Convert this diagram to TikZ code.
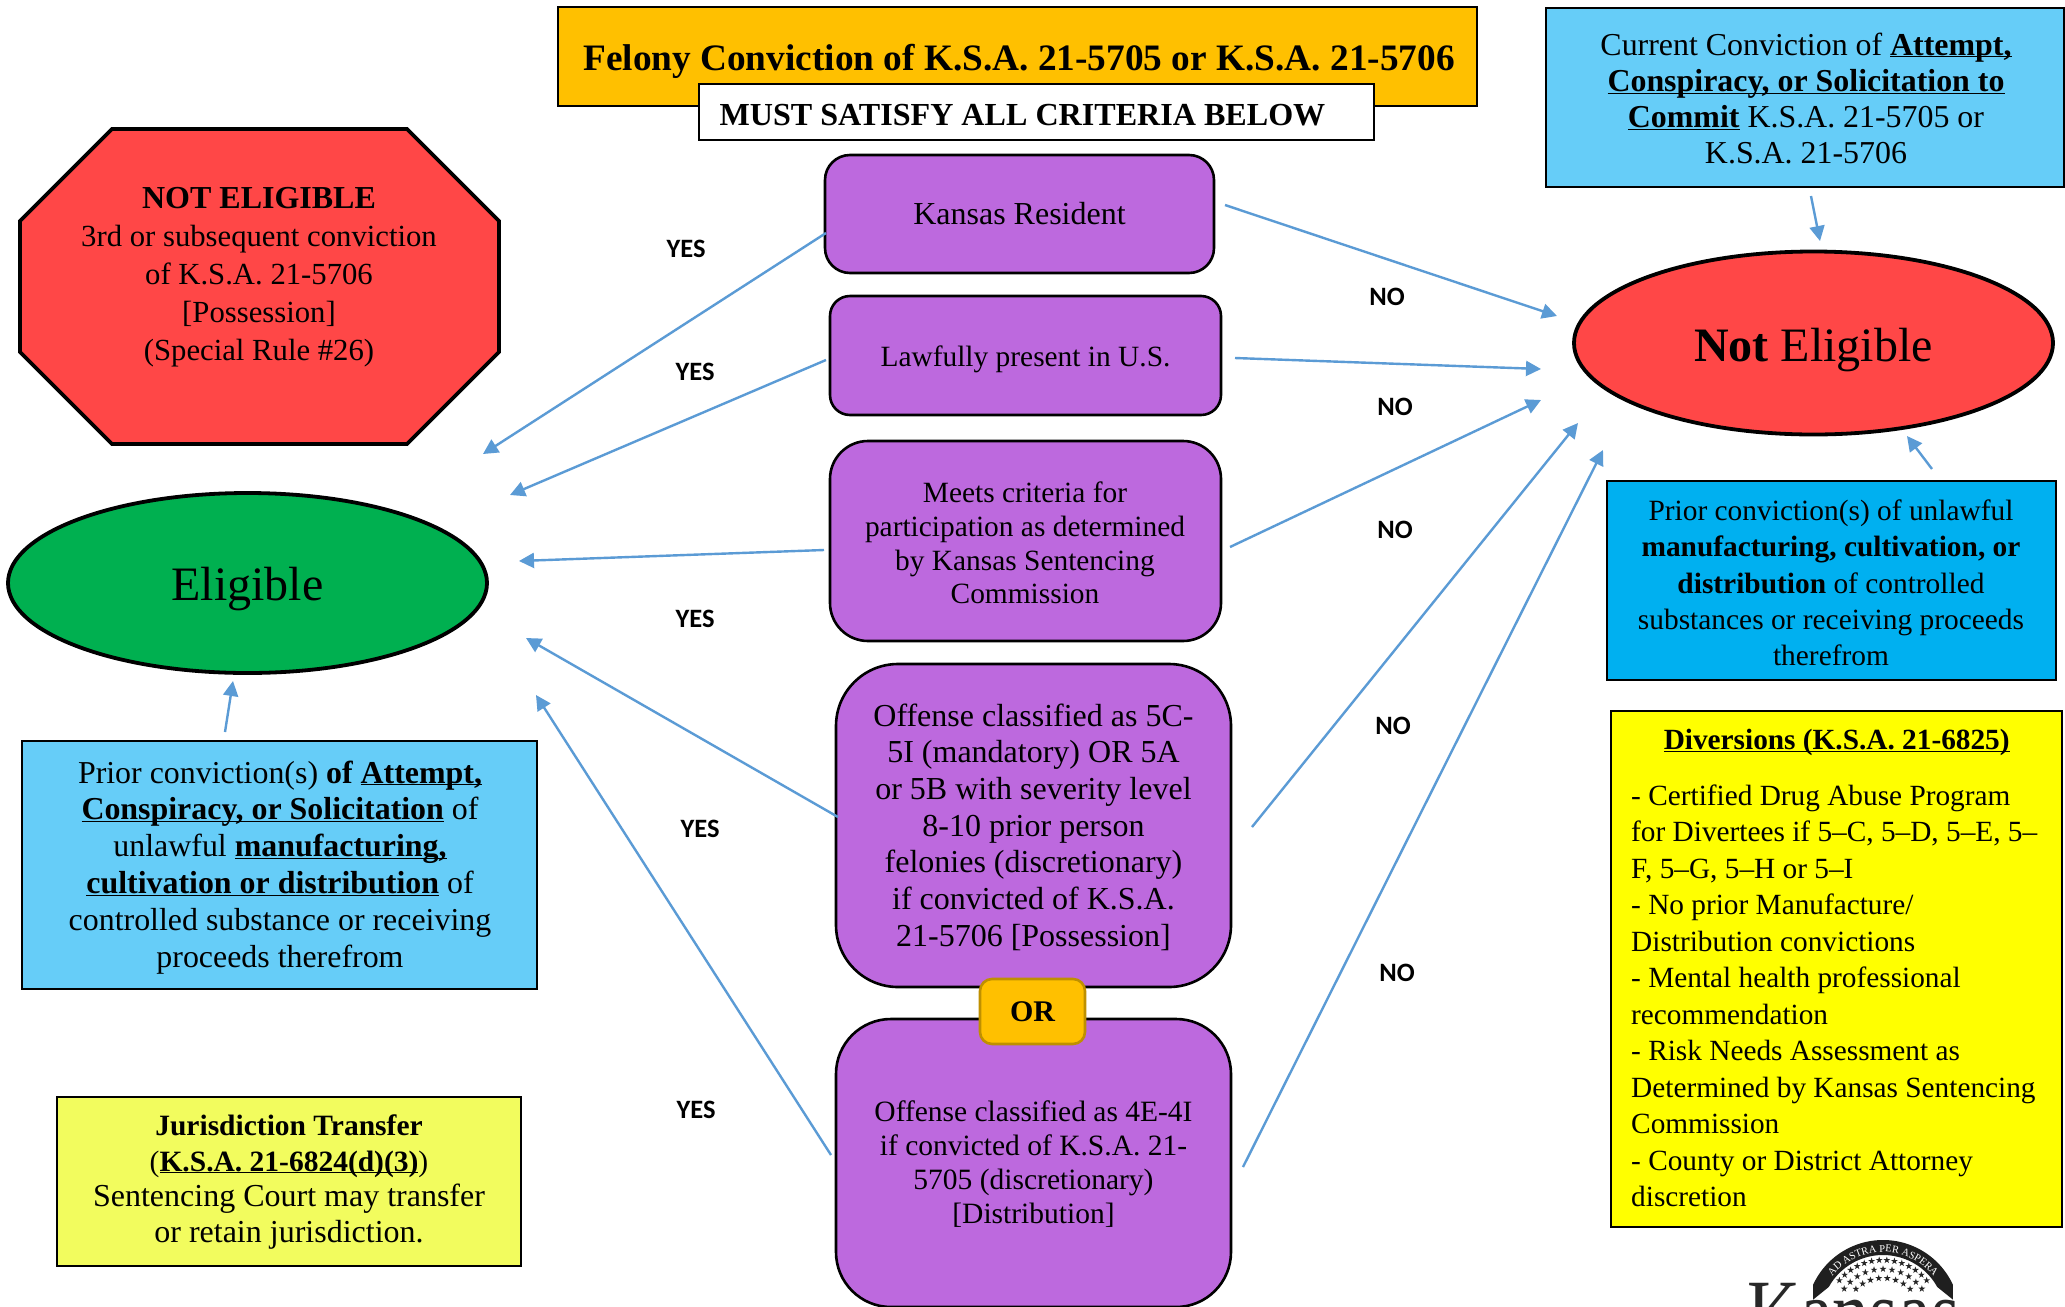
\documentclass[tikz,border=0pt]{standalone}
\usepackage{fontspec}
\setmainfont{Liberation Serif}
\newfontfamily\lblfont{Carlito}
\usetikzlibrary{shapes.geometric,arrows.meta,decorations.text}
\definecolor{purp}{RGB}{189,105,222}
\definecolor{orng}{RGB}{255,192,0}
\definecolor{redf}{RGB}{255,71,71}
\definecolor{grn}{RGB}{0,176,80}
\definecolor{ltblue}{RGB}{102,205,248}
\definecolor{blu}{RGB}{0,176,240}
\definecolor{lime}{RGB}{242,252,94}
\definecolor{yell}{RGB}{255,255,0}
\definecolor{arrowc}{RGB}{91,155,213}
\newcommand{\fs}[2]{\fontsize{#1}{#2}\selectfont}
\newcommand{\ul}[1]{\underline{\smash{#1}}}
\tikzset{
  x=1pt,y=-1pt,
  critbox/.style={draw=black,line width=2.6pt,fill=purp,rounded corners=#1,inner sep=0pt,align=center,text=black},
  panel/.style={draw=black,line width=2.6pt,inner sep=0pt,align=center},
  words/.style={inner sep=0pt,align=center},
  oval/.style={draw=black,line width=3.8pt,ellipse,inner sep=0pt},
  flow/.style={draw=arrowc,line width=2.4pt,-{Triangle[length=15pt,width=15pt]}},
  tag/.style={font=\lblfont\bfseries\fs{26.5}{30}},
}
\begin{document}
\begin{tikzpicture}
\useasboundingbox (0,0) rectangle (2065,1307);
\fill[white] (0,0) rectangle (2065,1307);

% header
\node[panel,fill=orng,minimum width=919pt,minimum height=99pt] (title) at (1017.5,56.5) {};
\node[anchor=center,font=\fs{37.3}{44}\bfseries] (titletext) at (1019,61) {Felony Conviction of K.S.A. 21-5705 or K.S.A. 21-5706};
\node[panel,fill=white,line width=2pt,minimum width=675pt,minimum height=56pt] (must) at (1036.5,112) {};
\node[anchor=west,font=\fs{32.1}{38}\bfseries] (musttext) at (716,115) {MUST SATISFY ALL CRITERIA BELOW};

% criteria
\node[critbox=25pt,minimum width=389pt,minimum height=118pt,font=\fs{32}{37}] (kansas) at (1019.5,214) {Kansas Resident};
\node[critbox=20pt,minimum width=391pt,minimum height=119pt,font=\fs{29.4}{34}] (lawful) at (1025.5,355.5) {\raisebox{-10.8pt}[0pt][0pt]{Lawfully present in U.S.}};
\node[critbox=38pt,minimum width=391pt,minimum height=200pt] (meets) at (1025.5,541) {};
\node[words,font=\fs{29.4}{33.6}] (meetstext) at (1025,543) {Meets criteria for\\participation as determined\\by Kansas Sentencing\\Commission};
\node[critbox=62pt,minimum width=395pt,minimum height=323pt] (off5) at (1033.5,825.5) {};
\node[words,font=\fs{32}{36.7}] (off5text) at (1033.5,827) {Offense classified as 5C-\\5I (mandatory) OR 5A\\or 5B with severity level\\8-10 prior person\\felonies (discretionary)\\if convicted of K.S.A.\\21-5706 [Possession]};
\node[critbox=55pt,minimum width=395pt,minimum height=288pt] (off4) at (1033.5,1163) {};
\node[words,font=\fs{29.5}{34}] (off4text) at (1033.5,1164.5) {Offense classified as 4E-4I\\if convicted of K.S.A. 21-\\5705 (discretionary)\\{}[Distribution]};
\node[draw={rgb,255:red,191;green,144;blue,0},fill=orng,line width=2.6pt,rounded corners=12pt,minimum width=105pt,minimum height=65pt,inner sep=0pt,font=\fs{30}{34}\bfseries] (ornode) at (1032.5,1011.5) {OR};

% octagon
\path[draw=black,line width=3.8pt,fill=redf,line join=miter]
  (112,129) -- (407,129) -- (499,221) -- (499,352) -- (407,444) -- (112,444) -- (20,352) -- (20,221) -- cycle;
\node[words,font=\fs{30.7}{38}] (octtext) at (259,277) {{\fs{32}{38}\bfseries NOT ELIGIBLE}\\3rd or subsequent conviction\\of K.S.A. 21-5706\\{}[Possession]\\(Special Rule \#26)};

% ovals
\node[oval,fill=grn,minimum width=479pt,minimum height=180pt,font=\fs{48}{54}] (elig) at (247.5,583) {\raisebox{-17pt}[0pt][0pt]{Eligible}};
\node[oval,fill=redf,minimum width=479pt,minimum height=183pt,font=\fs{48}{54}] (noteli) at (1813.5,343) {\raisebox{-18pt}[0pt][0pt]{\textbf{Not} Eligible}};

% side panels
\node[panel,fill=ltblue,minimum width=518pt,minimum height=179pt] (attempt) at (1805,97.5) {};
\node[words,font=\fs{31.9}{36.3}] (attempttext) at (1806,98.5) {Current Conviction of \textbf{\ul{Attempt,}}\\\textbf{\ul{Conspiracy, or Solicitation to}}\\\textbf{\ul{Commit}} K.S.A. 21-5705 or\\K.S.A. 21-5706};
\node[panel,fill=blu,minimum width=449pt,minimum height=199pt] (prior) at (1831.5,580.5) {};
\node[words,font=\fs{29.4}{36.3}] (priortext) at (1831,583) {Prior conviction(s) of unlawful\\\textbf{manufacturing, cultivation, or}\\\textbf{distribution} of controlled\\substances or receiving proceeds\\therefrom};
\node[panel,fill=ltblue,minimum width=515pt,minimum height=248pt] (priora) at (279.5,865) {};
\node[words,font=\fs{31.9}{36.9}] (prioratext) at (280,867.5) {Prior conviction(s) \textbf{of \ul{Attempt,}}\\\textbf{\ul{Conspiracy, or Solicitation}} of\\unlawful \textbf{\ul{manufacturing,}}\\\textbf{\ul{cultivation or distribution}} of\\controlled substance or receiving\\proceeds therefrom};
\node[panel,fill=lime,minimum width=464pt,minimum height=169pt] (juris) at (289,1181.5) {};
\node[words,font=\fs{32}{35.6}] (juristext) at (289,1182) {{\fs{29.5}{35.6}\bfseries Jurisdiction Transfer}\\{\fs{29.5}{35.6}(\textbf{\ul{K.S.A. 21-6824(d)(3)}})}\\Sentencing Court may transfer\\or retain jurisdiction.};
\node[panel,fill=yell,minimum width=451pt,minimum height=516pt] (divbox) at (1836.5,969) {};
\node[anchor=north west,align=left,inner sep=0pt,font=\fs{29.3}{36.5}] (divtext) at (1631,749.5) {\makebox[411pt][c]{\textbf{\ul{Diversions (K.S.A. 21-6825)}}}\\[19pt]- Certified Drug Abuse Program\\for Divertees if 5--C, 5--D, 5--E, 5--\\F, 5--G, 5--H or 5--I\\- No prior Manufacture/\\Distribution convictions\\- Mental health professional\\recommendation\\- Risk Needs Assessment as\\Determined by Kansas Sentencing\\Commission\\- County or District Attorney\\discretion};

% labels
\node[tag] (y1) at (686,249) {YES};
\node[tag] (y2) at (695,372) {YES};
\node[tag] (y3) at (695,619) {YES};
\node[tag] (y4) at (700,829) {YES};
\node[tag] (y5) at (696,1110) {YES};
\node[tag] (n1) at (1387,297) {NO};
\node[tag] (n2) at (1395,407) {NO};
\node[tag] (n3) at (1395,530) {NO};
\node[tag] (n4) at (1393,726) {NO};
\node[tag] (n5) at (1397,973) {NO};

% connector ends
\coordinate (kl) at (826,233); \coordinate (klt) at (483,454);
\coordinate (ll) at (826,360); \coordinate (llt) at (510,495);
\coordinate (ml) at (824,550); \coordinate (mlt) at (519,561);
\coordinate (ol) at (838,817); \coordinate (olt) at (526,638);
\coordinate (pl) at (831,1155); \coordinate (plt) at (536,695);
\coordinate (kr) at (1225,205); \coordinate (krt) at (1557,316);
\coordinate (lr) at (1235,358); \coordinate (lrt) at (1541,369);
\coordinate (mr) at (1230,547); \coordinate (mrt) at (1541,400);
\coordinate (or) at (1252,827); \coordinate (ort) at (1578,423);
\coordinate (pr) at (1243,1167); \coordinate (prt) at (1603,450);
\coordinate (a1) at (1811,196); \coordinate (a1t) at (1820,241);
\coordinate (a2) at (1932,469); \coordinate (a2t) at (1907,436);
\coordinate (a3) at (225,732); \coordinate (a3t) at (233,681);

\draw[flow] (kl) -- (klt);
\draw[flow] (ll) -- (llt);
\draw[flow] (ml) -- (mlt);
\draw[flow] (ol) -- (olt);
\draw[flow] (pl) -- (plt);
\draw[flow] (kr) -- (krt);
\draw[flow] (lr) -- (lrt);
\draw[flow] (mr) -- (mrt);
\draw[flow] (or) -- (ort);
\draw[flow] (pr) -- (prt);
\draw[flow] (a1) -- (a1t);
\draw[flow] (a2) -- (a2t);
\draw[flow] (a3) -- (a3t);

% logo
\begin{scope}
\clip (1650,1228) rectangle (2065,1307);
\begin{scope}[shift={(1747,1343)}]
\node[anchor=base west,inner sep=0pt,xscale=.8,transform shape,text={rgb,255:red,40;green,40;blue,40},font=\fs{92}{96}] (logotext) at (0,0) {Kansas};
\end{scope}
\begin{scope}[shift={(1883,1317)},y=1pt]
\fill[black!88] (155:77) arc[start angle=155,end angle=25,radius=77]
   -- (14:72) -- (29:62) arc[start angle=29,end angle=151,radius=62] -- (166:72) -- cycle;
\fs{10.5}{12}\selectfont
\path[decorate,decoration={text along path,text={AD ASTRA PER ASPERA},text align=center,text color=white}]
  (152:65) arc[start angle=152,end angle=28,radius=65];
\foreach \r/\n/\a in {57/13/50,48/10/54,39/7/44}{
  \foreach \i in {0,...,\n}{
    \pgfmathsetmacro{\ang}{90+\a-\i*2*\a/\n}
    \fill[black!85] (\ang:\r) +(90:3.6) -- +(234:3.6) -- +(18:3.6) -- +(162:3.6) -- +(306:3.6) -- cycle;
  }
}
\end{scope}
\end{scope}
\end{tikzpicture}
\end{document}
